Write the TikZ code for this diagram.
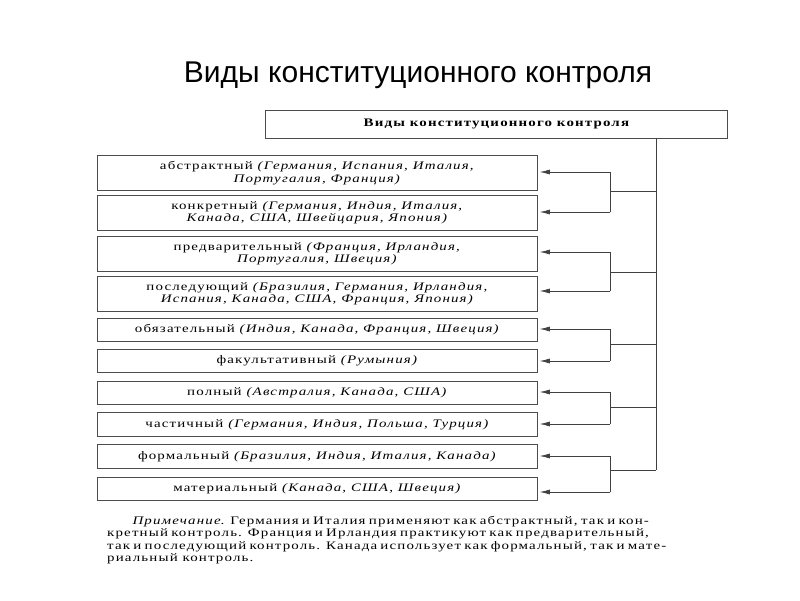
\documentclass[tikz,border=0pt]{standalone}
\usepackage{fontspec}
\setmainfont{Liberation Serif}[FakeStretch=1.3,LetterSpace=10]
\newfontfamily\titlefont{Liberation Sans}
\usetikzlibrary{arrows.meta}
\newcommand{\nline}[1]{\makebox[425pt][s]{#1}\\}
\begin{document}
\begin{tikzpicture}[x=1pt,y=-1pt,
  kbox/.style={draw=black!70,line width=0.8pt,minimum width=440pt,align=center,font=\fontsize{11.5}{12.5}\selectfont,inner sep=1pt,anchor=north west},
  arr/.style={-{Latex[length=10pt,width=5pt]},line width=0.7pt,black!75},
  ln/.style={line width=0.7pt,black!75}]
\useasboundingbox (0,0) rectangle (800,600);
\node[font=\titlefont\fontsize{30}{33}\selectfont] (title) at (418,75) {Виды конституционного контроля};
\node[draw=black!70,line width=0.8pt,minimum width=462pt,minimum height=28pt,anchor=north west,font=\bfseries\fontsize{11.5}{12}\selectfont] (top) at (265,110) {Виды конституционного контроля};
\node[kbox,minimum height=35pt] (b1) at (97,155) {абстрактный \textit{(Германия, Испания, Италия,}\\\textit{Португалия, Франция)}};
\node[kbox,minimum height=35pt] (b2) at (97,195) {конкретный \textit{(Германия, Индия, Италия,}\\\textit{Канада, США, Швейцария, Япония)}};
\node[kbox,minimum height=35pt] (b3) at (97,236) {предварительный \textit{(Франция, Ирландия,}\\\textit{Португалия, Швеция)}};
\node[kbox,minimum height=35pt] (b4) at (97,276) {последующий \textit{(Бразилия, Германия, Ирландия,}\\\textit{Испания, Канада, США, Франция, Япония)}};
\node[kbox,minimum height=23pt] (b5) at (97,318) {обязательный \textit{(Индия, Канада, Франция, Швеция)}};
\node[kbox,minimum height=23pt] (b6) at (97,349) {факультативный \textit{(Румыния)}};
\node[kbox,minimum height=23pt] (b7) at (97,381) {полный \textit{(Австралия, Канада, США)}};
\node[kbox,minimum height=24pt] (b8) at (97,412) {частичный \textit{(Германия, Индия, Польша, Турция)}};
\node[kbox,minimum height=24pt] (b9) at (97,444) {формальный \textit{(Бразилия, Индия, Италия, Канада)}};
\node[kbox,minimum height=23pt] (b10) at (97,477) {материальный \textit{(Канада, США, Швеция)}};
\coordinate (m) at (656,138);
\coordinate (mEnd) at (656,470);
\draw[ln] (m) -- (mEnd);
\foreach \a/\b/\ya/\yb/\yj in {b1/b2/172/212/191, b3/b4/252/291/272, b5/b6/329/361/344, b7/b8/392/424/407, b9/b10/456/492/470}{
  \coordinate (ja) at (610,\ya);
  \coordinate (jb) at (610,\yb);
  \coordinate (jm) at (610,\yj);
  \coordinate (jr) at (656,\yj);
  \draw[ln] (ja) -- (jb);
  \draw[ln] (jr) -- (jm);
  \draw[arr] (ja) -- ([xshift=2pt]\a.east |- ja);
  \draw[arr] (jb) -- ([xshift=2pt]\b.east |- jb);
}
\node[anchor=north west,align=left,font=\fontsize{11.5}{12.3}\selectfont,inner sep=0pt] (note) at (107,516)
{\nline{\hspace*{2.2em}\textit{Примечание}. Германия и Италия применяют как абстрактный, так и кон-}
\nline{кретный контроль. Франция и Ирландия практикуют как предварительный,}
\nline{так и последующий контроль. Канада использует как формальный, так и мате-}
риальный контроль.};
\end{tikzpicture}
\end{document}
